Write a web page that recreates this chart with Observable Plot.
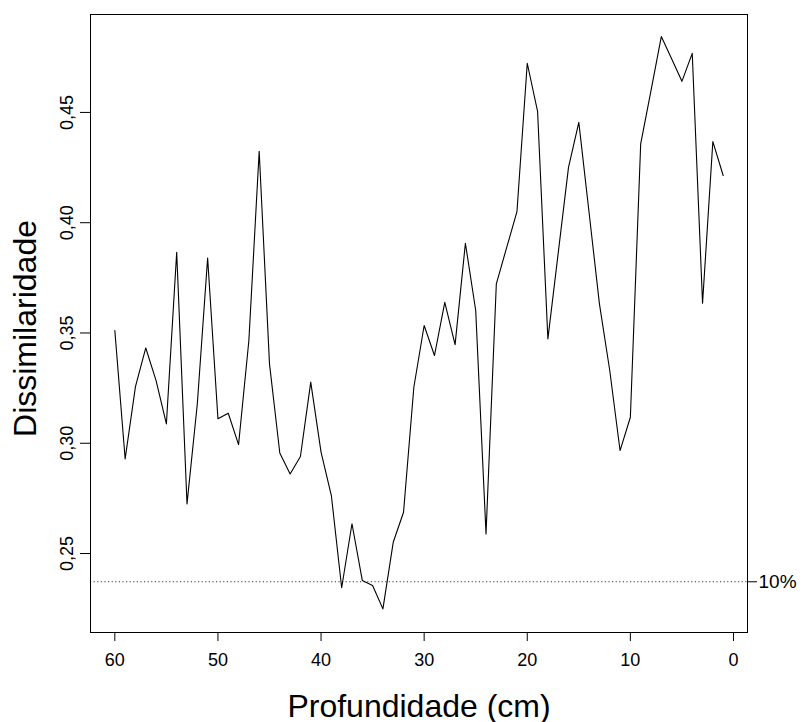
<!DOCTYPE html>
<html>
<head>
<meta charset="utf-8">
<script src="https://cdn.jsdelivr.net/npm/d3@7"></script>
<script src="https://cdn.jsdelivr.net/npm/@observablehq/plot@0.6"></script>
<style>
  html, body { margin: 0; padding: 0; background: #fff; }
  #chart { width: 802px; height: 722px; }
</style>
</head>
<body>
<div id="chart"></div>
<script>
// Depth (cm), from 60 down to 1
const depths = [60,59,58,57,56,55,54,53,52,51,50,49,48,47,46,45,44,43,42,41,
                40,39,38,37,36,35,34,33,32,31,30,29,28,27,26,25,24,23,22,21,
                20,19,18,17,16,15,14,13,12,11,10,9,8,7,6,5,4,3,2,1];
// Dissimilarity values
const dissimilarity = [
  0.3511,0.2929,0.3257,0.3432,0.3284,0.3088,0.3866,0.2725,0.3179,0.3840,
  0.3111,0.3136,0.2994,0.3466,0.4324,0.3360,0.2956,0.2861,0.2940,0.3277,
  0.2960,0.2763,0.2345,0.2635,0.2378,0.2355,0.2249,0.2551,0.2687,0.3254,
  0.3534,0.3398,0.3639,0.3447,0.3907,0.3602,0.2589,0.3723,0.3887,0.4050,
  0.4723,0.4505,0.3473,0.3862,0.4251,0.4455,0.4044,0.3632,0.3330,0.2967,
  0.3118,0.4357,0.4599,0.4844,0.4743,0.4641,0.4768,0.3635,0.4368,0.4214
];
const threshold = 0.2372;
const thresholdLabel = "10%";
const xTicks = [60, 50, 40, 30, 20, 10, 0];
const yTicks = [0.25, 0.30, 0.35, 0.40, 0.45];
const xTitle = "Profundidade (cm)";
const yTitle = "Dissimilaridade";

const data = depths.map((d, i) => ({depth: d, value: dissimilarity[i]}));

const font = "'Liberation Sans', Arial, Helvetica, sans-serif";

const chart = Plot.plot({
  width: 802,
  height: 722,
  marginLeft: 90,
  marginRight: 55,
  marginTop: 14,
  marginBottom: 90,
  style: {fontFamily: font, fontSize: "18px", color: "#000", background: "#fff", overflow: "visible"},
  x: {domain: [62.36, -1.36]},
  y: {domain: [0.2142, 0.4944]},
  marks: [
    Plot.ruleY([threshold], {stroke: "#333", strokeWidth: 1.1, strokeDasharray: "1.2,2.4"}),
    Plot.line(data, {x: "depth", y: "value", stroke: "#000", strokeWidth: 1.1}),
    Plot.frame({stroke: "#000", strokeWidth: 1}),
    Plot.axisX({ticks: xTicks, tickSize: 9, tickPadding: 12, fontSize: 18, label: null, tickFormat: d => String(d)}),
    Plot.axisY({ticks: yTicks, tickSize: 10, tickPadding: 8, tickRotate: -90, fontSize: 18, label: null,
                tickFormat: d => d.toFixed(2).replace(".", ",")}),
    Plot.axisY({anchor: "right", ticks: [threshold], tickSize: 9, tickPadding: 2, fontSize: 19, label: null,
                tickFormat: () => thresholdLabel}),
    Plot.text([xTitle], {frameAnchor: "bottom", dy: 84, fontSize: 32, lineAnchor: "bottom", text: d => d, fill: "#000"}),
    Plot.text([yTitle], {frameAnchor: "left", dx: -55, dy: 5, rotate: -90, textAnchor: "middle", fontSize: 32, lineAnchor: "bottom", text: d => d, fill: "#000"})
  ]
});
document.getElementById("chart").appendChild(chart);
</script>
</body>
</html>
